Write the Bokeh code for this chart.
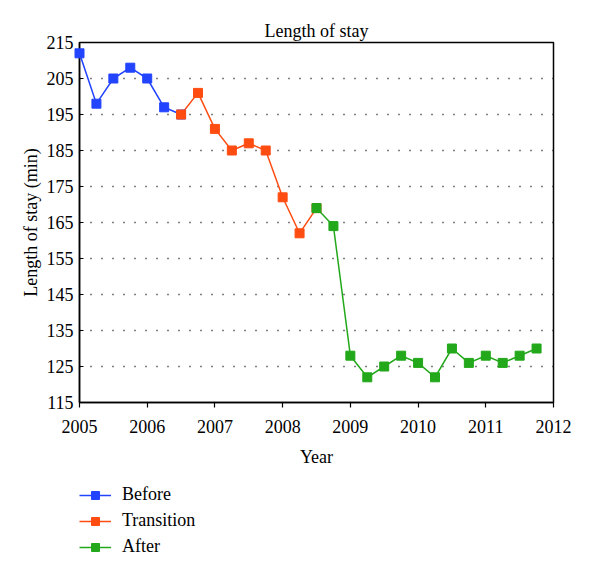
from bokeh.plotting import figure
from bokeh.layouts import column
from bokeh.models import Range1d, FixedTicker, Legend, LegendItem
from bokeh.embed import file_html
from bokeh.resources import INLINE

years_before = [2005.0, 2005.25, 2005.5, 2005.75, 2006.0, 2006.25, 2006.5]
stay_before = [212, 198, 205, 208, 205, 197, 195]
years_transition = [2006.5, 2006.75, 2007.0, 2007.25, 2007.5, 2007.75, 2008.0, 2008.25, 2008.5]
stay_transition = [195, 201, 191, 185, 187, 185, 172, 162, 169]
years_after = [2008.5, 2008.75, 2009.0, 2009.25, 2009.5, 2009.75, 2010.0, 2010.25,
               2010.5, 2010.75, 2011.0, 2011.25, 2011.5, 2011.75]
stay_after = [169, 164, 128, 122, 125, 128, 126, 122, 130, 126, 128, 126, 128, 130]
series_names = ["Before", "Transition", "After"]

x_ticks = [2005, 2006, 2007, 2008, 2009, 2010, 2011, 2012]
y_ticks = [115, 125, 135, 145, 155, 165, 175, 185, 195, 205, 215]

FONT = "Liberation Serif"
FS = "18px"
BLUE = "#2244ff"
ORANGE = "#ff4d12"
GREEN = "#22a81a"

p = figure(width=584, height=470, output_backend="svg", toolbar_location=None,
           x_range=Range1d(2005, 2012), y_range=Range1d(115, 215),
           title="Length of stay",
           min_border_left=79, min_border_right=31, min_border_top=42, min_border_bottom=68)

p.title.align = "center"
p.title.text_font = FONT
p.title.text_font_style = "normal"
p.title.text_font_size = FS
p.title.text_color = "black"
p.title.offset = 0
p.title.standoff = 4

p.outline_line_color = "black"
p.outline_line_width = 1.5
p.outline_line_alpha = 1

p.xgrid.visible = False
p.ygrid.ticker = FixedTicker(ticks=y_ticks)
p.ygrid.grid_line_color = "black"
p.ygrid.grid_line_dash = "1 10"
p.ygrid.grid_line_width = 1.5

for ax in (p.xaxis[0], p.yaxis[0]):
    ax.axis_line_color = "black"
    ax.axis_line_width = 1.5
    ax.major_tick_line_color = "black"
    ax.major_tick_line_width = 1.2
    ax.minor_tick_line_color = None
    ax.major_label_text_font = FONT
    ax.major_label_text_font_size = FS
    ax.major_label_text_color = "black"
    ax.axis_label_text_font = FONT
    ax.axis_label_text_font_size = FS
    ax.axis_label_text_font_style = "normal"
    ax.axis_label_text_color = "black"

p.xaxis[0].ticker = FixedTicker(ticks=x_ticks)
p.xaxis[0].major_tick_in = 0
p.xaxis[0].major_tick_out = 5
p.xaxis[0].major_label_standoff = 12
p.xaxis[0].axis_label = "Year"
p.xaxis[0].axis_label_standoff = 11
p.yaxis[0].ticker = FixedTicker(ticks=y_ticks)
p.yaxis[0].major_tick_in = 4
p.yaxis[0].major_tick_out = 0
p.yaxis[0].major_label_standoff = 6
p.yaxis[0].axis_label = "Length of stay (min)"
p.yaxis[0].axis_label_standoff = 3

# legend figure below the chart (its ranges keep its own copies of the series out of view)
lg = figure(width=584, height=92, output_backend="svg", toolbar_location=None,
            x_range=Range1d(0, 1), y_range=Range1d(0, 1),
            x_axis_location=None, y_axis_location=None,
            min_border_left=0, min_border_right=0, min_border_top=0, min_border_bottom=0)
lg.grid.visible = False
lg.outline_line_color = None

items = []
for name, xs, ys, col in zip(series_names,
                             [years_before, years_transition, years_after],
                             [stay_before, stay_transition, stay_after],
                             [BLUE, ORANGE, GREEN]):
    p.line(xs, ys, line_color=col, line_width=1.5)
    p.scatter(xs, ys, marker="square", size=9, fill_color=col, line_color=col, level="overlay")
    ln = lg.line(xs, ys, line_color=col, line_width=1.5)
    sc = lg.scatter(xs, ys, marker="square", size=7, fill_color=col, line_color=col)
    items.append(LegendItem(label=name, renderers=[ln, sc]))

legend = Legend(items=items, location=(0, 5), orientation="vertical",
                label_text_font=FONT, label_text_font_size=FS, label_text_color="black",
                glyph_width=32, glyph_height=20, spacing=5, padding=0, margin=0,
                border_line_color=None, background_fill_alpha=0,
                label_standoff=11)
lg.add_layout(legend, "center")

layout = column(p, lg, spacing=0)
open("out.html", "w").write(file_html(layout, INLINE))
